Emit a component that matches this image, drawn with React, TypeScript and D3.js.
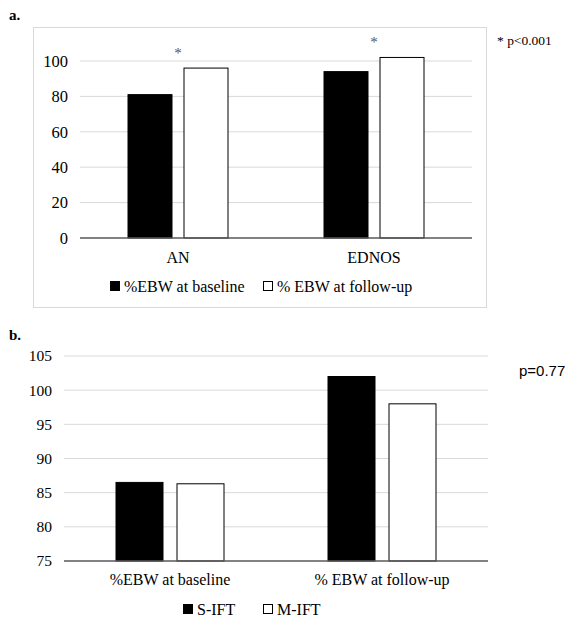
import React from 'react';
import * as d3 from 'd3';

// panel a
const groupsA = ['AN', 'EDNOS'];
const baselineA = [81, 94];
const followUpA = [96, 102];
const seriesA = ['%EBW at baseline', '% EBW at follow-up'];
const ticksA = [0, 20, 40, 60, 80, 100];

// panel b
const groupsB = ['%EBW at baseline', '% EBW at follow-up'];
const sIft = [86.5, 102];
const mIft = [86.3, 98];
const seriesB = ['S-IFT', 'M-IFT'];
const ticksB = [75, 80, 85, 90, 95, 100, 105];

const SERIF = '"Liberation Serif", "Times New Roman", serif';
const SANS = '"Liberation Sans", Arial, sans-serif';
const GRID = '#d9d9d9';
const AXIS = '#595959';

type PanelProps = {
  groups: string[];
  a: number[];
  b: number[];
  ticks: number[];
  x0: number;
  x1: number;
  yTop: number;
  yBottom: number;
  barW: number;
  gap: number;
  labelY: number;
  tickSize: number;
  stars?: boolean;
};

const Panel = ({ groups, a, b, ticks, x0, x1, yTop, yBottom, barW, gap, labelY, tickSize, stars }: PanelProps) => {
  const x = d3.scaleBand().domain(groups).range([x0, x1]);
  const y = d3.scaleLinear().domain([ticks[0], ticks[ticks.length - 1]]).range([yBottom, yTop]);
  return (
    <g>
      {ticks.map(t => (
        <g key={t}>
          {t !== ticks[0] && <line x1={x0} x2={x1} y1={y(t)} y2={y(t)} stroke={GRID} strokeWidth={1} />}
          <text x={x0 - 12} y={y(t)} dy="0.35em" textAnchor="end" fontFamily={SERIF} fontSize={tickSize}>{t}</text>
        </g>
      ))}
      {groups.map((g, i) => {
        const c = (x(g) as number) + x.bandwidth() / 2;
        return (
          <g key={g}>
            <rect x={c - gap / 2 - barW} y={y(a[i])} width={barW} height={yBottom - y(a[i])} fill="#000" stroke="#000" />
            <rect x={c + gap / 2} y={y(b[i])} width={barW} height={yBottom - y(b[i])} fill="#fff" stroke="#000" strokeWidth={1} />
            <text x={c} y={labelY} textAnchor="middle" fontFamily={SERIF} fontSize={16}>{g}</text>
            {stars && (
              <text x={c} y={y(Math.max(a[i], b[i])) - 10} textAnchor="middle" fontFamily={SERIF} fontSize={15} fill="#555">*</text>
            )}
          </g>
        );
      })}
      <line x1={x0} x2={x1} y1={yBottom} y2={yBottom} stroke={AXIS} strokeWidth={1.5} />
    </g>
  );
};

const LegendItem = ({ x, y, label, fill }: { x: number; y: number; label: string; fill: string }) => (
  <g>
    <rect x={x + 0.5} y={y - 10.5} width={9} height={9} fill={fill} stroke="#000" strokeWidth={1} />
    <text x={x + 14} y={y} fontFamily={SERIF} fontSize={16}>{label}</text>
  </g>
);

export default function App() {
  return (
    <div style={{ position: 'absolute', left: 0, top: 0 }}>
      <svg width={565} height={617} style={{ display: 'block', background: '#fff' }}>
        <text x={9} y={20} fontFamily={SERIF} fontSize={15} fontWeight="bold">a.</text>
        <rect x={33.5} y={27.5} width={453} height={280} fill="none" stroke={GRID} strokeWidth={1} />
        <Panel groups={groupsA} a={baselineA} b={followUpA} ticks={ticksA}
          x0={80} x1={472} yTop={61} yBottom={238} barW={44} gap={12} labelY={263} tickSize={16.5} stars />
        <LegendItem x={110} y={292} label={seriesA[0]} fill="#000" />
        <LegendItem x={263} y={292} label={seriesA[1]} fill="#fff" />
        <text x={497} y={45} fontFamily={SERIF} fontSize={13.5}>* p&lt;0.001</text>

        <text x={9} y={340} fontFamily={SERIF} fontSize={15} fontWeight="bold">b.</text>
        <Panel groups={groupsB} a={sIft} b={mIft} ticks={ticksB}
          x0={64} x1={488} yTop={356} yBottom={561} barW={47} gap={14} labelY={585} tickSize={15.5} />
        <LegendItem x={183} y={615} label={seriesB[0]} fill="#000" />
        <LegendItem x={263} y={615} label={seriesB[1]} fill="#fff" />
        <text x={519} y={376} fontFamily={SANS} fontSize={15}>p=0.77</text>
      </svg>
    </div>
  );
}
